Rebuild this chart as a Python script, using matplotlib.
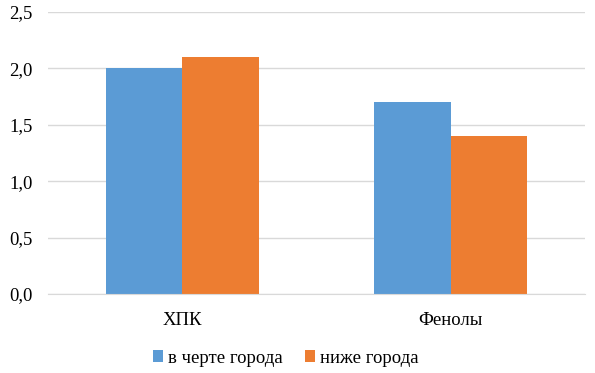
import numpy as np
import matplotlib.pyplot as plt
from matplotlib.ticker import FuncFormatter

# data
categories = ["ХПК", "Фенолы"]
series_names = ["в черте города", "ниже города"]
in_city = [2.0, 1.7]
below_city = [2.1, 1.4]

plt.rcParams['font.family'] = ['Liberation Serif', 'DejaVu Serif']

fig = plt.figure(figsize=(5.95, 3.73), dpi=100)
ax = fig.add_axes([0.081, 0.212, 0.902, 0.756])

x = np.arange(len(categories))
w = 0.285
ax.bar(x - w / 2, in_city, w, color="#5B9BD5", label=series_names[0], zorder=3)
ax.bar(x + w / 2, below_city, w, color="#ED7D31", label=series_names[1], zorder=3)

ax.set_xlim(-0.5, 1.5)
ax.set_ylim(0, 2.5)
ax.set_yticks(np.arange(0, 2.51, 0.5))
ax.yaxis.set_major_formatter(FuncFormatter(lambda v, p: f"{v:.1f}".replace(".", ",")))
ax.set_xticks(x)
ax.set_xticklabels(categories)
ax.tick_params(axis="both", length=0, labelsize=13.5, colors="black")
ax.tick_params(axis="x", pad=13)
ax.tick_params(axis="y", pad=11)
ax.grid(axis="y", color="#D9D9D9", linewidth=1, zorder=0)
for s in ["top", "right", "left"]:
    ax.spines[s].set_visible(False)
ax.spines["bottom"].set_color("#D9D9D9")
ax.spines["bottom"].set_zorder(4)

fig.legend(loc="center", bbox_to_anchor=(0.48, 0.04), ncol=2, frameon=False,
           fontsize=13.5, handlelength=0.55, handleheight=0.55, handletextpad=0.25,
           columnspacing=1.2)

fig.savefig("out.png", dpi=100)
